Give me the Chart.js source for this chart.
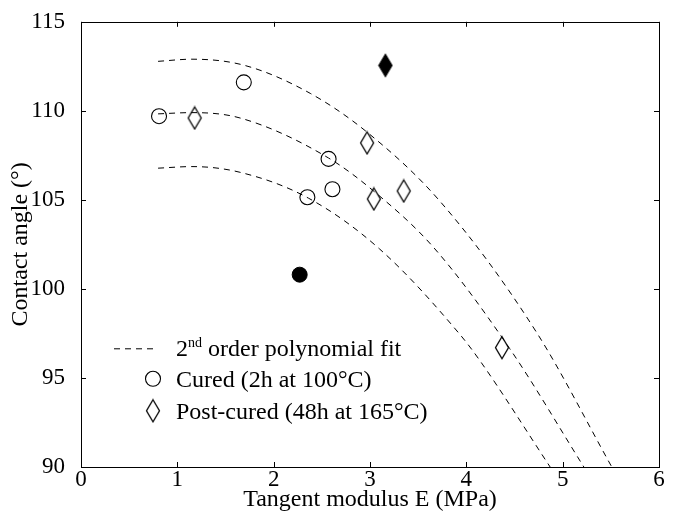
<!DOCTYPE html>
<html><head><meta charset="utf-8">
<script src="https://cdn.jsdelivr.net/npm/chart.js@4.4.1/dist/chart.umd.min.js"></script>
<style>html,body{margin:0;padding:0;background:#fff;}#wrap{width:678px;height:514px;}</style>
</head><body><div id="wrap"><canvas id="c" width="678" height="514"></canvas></div>
<script>
// ---- data ----
const curedX = [0.81, 1.69, 2.57, 2.61, 2.35];
const curedY = [109.7, 111.6, 107.3, 105.6, 105.15];
const curedFilledX = [2.27];
const curedFilledY = [100.8];
const postX = [1.18, 2.97, 3.04, 3.35, 4.37];
const postY = [109.6, 108.2, 105.05, 105.5, 96.7];
const postFilledX = [3.16];
const postFilledY = [112.55];
const fitTopX = [0.8, 1.15, 1.7, 2.38, 2.97, 3.73, 4.73, 5.51];
const fitTopY = [112.78, 112.9, 112.55, 110.98, 108.8, 104.9, 97.55, 90.0];
const fitMidX = [0.8, 1.15, 1.65, 2.57, 3.07, 3.66, 4.45, 5.22];
const fitMidY = [109.83, 109.9, 109.6, 107.35, 105.35, 102.33, 96.65, 90.0];
const fitLowX = [0.8, 1.15, 1.65, 2.36, 3.10, 3.94, 4.14, 4.87];
const fitLowY = [106.78, 106.87, 106.55, 105.1, 102.24, 97.4, 95.98, 90.0];
const xTicks = [0, 1, 2, 3, 4, 5, 6];
const yTicks = [90, 95, 100, 105, 110, 115];
const labels = {
  x: 'Tangent modulus E (MPa)',
  y: 'Contact angle (\u00B0)',
  fit: ['2', 'nd', ' order polynomial fit'],
  cured: 'Cured (2h at 100\u00B0C)',
  post: 'Post-cured (48h at 165\u00B0C)'
};

const pts = (xs, ys) => xs.map((x, i) => ({x: x, y: ys[i]}));
const FONT = 'Liberation Serif, Times New Roman, serif';

function diamond(filled) {
  const c = document.createElement('canvas');
  c.width = 16; c.height = 25;
  const g = c.getContext('2d');
  g.beginPath();
  g.moveTo(8, 1.5); g.lineTo(14.5, 12.5); g.lineTo(8, 23.5); g.lineTo(1.5, 12.5); g.closePath();
  g.lineWidth = 1.3; g.strokeStyle = '#000';
  if (filled) { g.fillStyle = '#000'; g.fill(); }
  g.stroke();
  return c;
}
const dOpen = diamond(false), dFill = diamond(true);

const fitStyle = {type: 'line', borderColor: '#000', borderWidth: 1, borderDash: [6, 5],
  pointRadius: 0, fill: false, cubicInterpolationMode: 'monotone', showLine: true};

const frame = {
  id: 'frame',
  afterDraw(chart) {
    const {ctx, chartArea: a, scales} = chart;
    ctx.save();
    ctx.strokeStyle = '#000'; ctx.lineWidth = 1;
    ctx.strokeRect(Math.round(a.left) + 0.5, Math.round(a.top) + 0.5, Math.round(a.right - a.left), Math.round(a.bottom - a.top));
    const tl = 5;
    ctx.beginPath();
    scales.x.ticks.forEach(t => {
      const px = Math.round(scales.x.getPixelForValue(t.value)) + 0.5;
      ctx.moveTo(px, a.bottom); ctx.lineTo(px, a.bottom - tl);
      ctx.moveTo(px, a.top); ctx.lineTo(px, a.top + tl);
    });
    scales.y.ticks.forEach(t => {
      const py = Math.round(scales.y.getPixelForValue(t.value)) + 0.5;
      ctx.moveTo(a.left, py); ctx.lineTo(a.left + tl, py);
      ctx.moveTo(a.right, py); ctx.lineTo(a.right - tl, py);
    });
    ctx.stroke();
    // legend
    const lx = a.left + 33, tx = a.left + 95;
    const r1 = a.top + 327, r2 = a.top + 357, r3 = a.top + 389;
    ctx.beginPath();
    ctx.setLineDash([6, 5]);
    ctx.moveTo(lx, r1); ctx.lineTo(lx + 40, r1);
    ctx.stroke();
    ctx.setLineDash([]);
    ctx.beginPath();
    ctx.lineWidth = 1.1;
    ctx.arc(a.left + 72, r2, 7.5, 0, Math.PI * 2);
    ctx.stroke();
    ctx.drawImage(dOpen, a.left + 72 - 8, r3 - 12.5);
    ctx.fillStyle = '#000';
    ctx.textBaseline = 'alphabetic';
    ctx.font = '24px ' + FONT;
    ctx.fillText(labels.fit[0], tx, r1 + 7);
    let w = ctx.measureText(labels.fit[0]).width;
    ctx.font = '14px ' + FONT;
    ctx.fillText(labels.fit[1], tx + w, r1 - 2);
    w += ctx.measureText(labels.fit[1]).width;
    ctx.font = '24px ' + FONT;
    ctx.fillText(labels.fit[2], tx + w, r1 + 7);
    ctx.fillText(labels.cured, tx, r2 + 8);
    ctx.fillText(labels.post, tx, r3 + 8);
    ctx.restore();
  }
};

new Chart(document.getElementById('c'), {
  type: 'scatter',
  data: {
    datasets: [
      Object.assign({label: 'fitTop', data: pts(fitTopX, fitTopY)}, fitStyle),
      Object.assign({label: 'fitMid', data: pts(fitMidX, fitMidY)}, fitStyle),
      Object.assign({label: 'fitLow', data: pts(fitLowX, fitLowY)}, fitStyle),
      {label: labels.cured, data: pts(curedX, curedY), pointStyle: 'circle', pointRadius: 7.5,
        pointBorderColor: '#000', pointBackgroundColor: 'rgba(0,0,0,0)', pointBorderWidth: 1.1},
      {label: 'cured filled', data: pts(curedFilledX, curedFilledY), pointStyle: 'circle', pointRadius: 7.5,
        pointBorderColor: '#000', pointBackgroundColor: '#000', pointBorderWidth: 1},
      {label: labels.post, data: pts(postX, postY), pointStyle: dOpen, pointRadius: 8},
      {label: 'post filled', data: pts(postFilledX, postFilledY), pointStyle: dFill, pointRadius: 8}
    ]
  },
  options: {
    responsive: false, animation: false,
    layout: {padding: {top: 17, right: 19, left: 0, bottom: 0}},
    plugins: {legend: {display: false}, tooltip: {enabled: false}},
    scales: {
      x: {
        type: 'linear', min: 0, max: 6,
        afterBuildTicks: s => { s.ticks = xTicks.map(v => ({value: v})); },
        afterFit: s => { s.height = 47; },
        grid: {display: false}, border: {display: false},
        ticks: {color: '#000', padding: -9, font: {family: FONT, size: 23}, autoSkip: false, maxRotation: 0},
        title: {display: true, text: labels.x, color: '#000', font: {family: FONT, size: 24}, padding: {top: 0, bottom: 0}}
      },
      y: {
        type: 'linear', min: 90, max: 115,
        afterBuildTicks: s => { s.ticks = yTicks.map(v => ({value: v})); },
        afterFit: s => { s.width = 81; },
        grid: {display: false}, border: {display: false},
        ticks: {color: '#000', padding: 8, font: {family: FONT, size: 23}, autoSkip: false},
        title: {display: true, text: labels.y, color: '#000', font: {family: FONT, size: 24}, padding: {top: 6, bottom: 0}}
      }
    }
  },
  plugins: [frame]
});
</script></body></html>
